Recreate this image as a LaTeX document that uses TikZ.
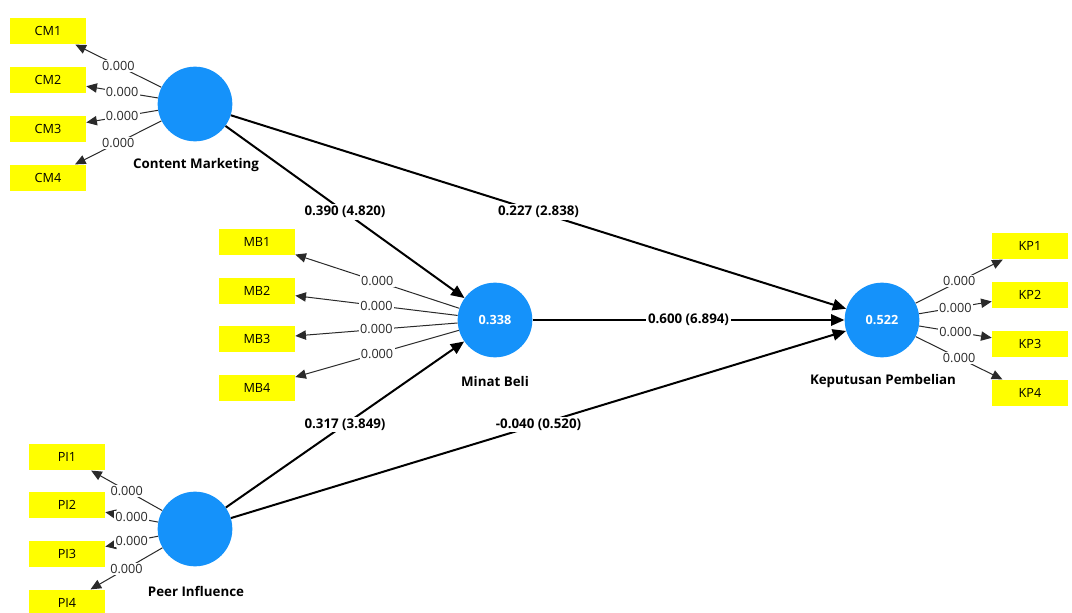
\documentclass[tikz,border=0pt]{standalone}
\usepackage{fontspec}
\setmainfont{Open Sans}
\usetikzlibrary{arrows.meta}
\definecolor{latentblue}{HTML}{1592FA}
\definecolor{indyellow}{HTML}{FFFF00}
\definecolor{loadgrey}{HTML}{2A2A2A}

\begin{document}
\begin{tikzpicture}[
  x=0.75pt,
  y=-0.75pt,
  every node/.style={font=\fontsize{9.5}{11}\selectfont},
  latent/.style={circle, fill=latentblue, minimum size=56pt, inner sep=0pt,
                 text=white, font=\fontsize{9.5}{11}\selectfont\bfseries},
  latentname/.style={font=\fontsize{10}{12}\selectfont\bfseries},
  indicator/.style={fill=indyellow, minimum width=57pt, minimum height=20pt,
                    inner sep=0pt},
  loading/.style={loadgrey, line width=0.75pt,
                  -{Triangle[length=8pt, width=7pt]}},
  loadval/.style={fill=white, inner sep=1pt, text=loadgrey},
  structural/.style={black, line width=1.5pt,
                     -{Triangle[length=10pt, width=8.5pt]}},
  pathval/.style={fill=white, inner sep=1.5pt,
                  font=\fontsize{10}{12}\selectfont\bfseries}
]
  \useasboundingbox[fill=white] (0,0) rectangle (1072,613);

  % ---- latent variables ------------------------------------------------
  \node[latent] (cm) at (195,104) {};
  \node[latent] (mb) at (495,320) {0.338};
  \node[latent] (kp) at (882,320) {0.522};
  \node[latent] (pi) at (195,529) {};

  \node[latentname] at (196,165) {Content Marketing};
  \node[latentname] at (495,381) {Minat Beli};
  \node[latentname] at (883,381) {Keputusan Pembelian};
  \node[latentname] at (196,591) {Peer Influence};

  % ---- indicators ------------------------------------------------------
  \foreach \i/\y in {1/31, 2/80, 3/129, 4/178}
    \node[indicator] (cm\i) at (48,\y) {CM\i};
  \foreach \i/\y in {1/242, 2/291, 3/339, 4/388}
    \node[indicator] (mb\i) at (257,\y) {MB\i};
  \foreach \i/\y in {1/246, 2/295, 3/344, 4/393}
    \node[indicator] (kp\i) at (1030,\y) {KP\i};
  \foreach \i/\y in {1/457, 2/505, 3/554, 4/603}
    \node[indicator] (pi\i) at (67,\y) {PI\i};

  % ---- outer loadings --------------------------------------------------
  \foreach \i in {1,...,4} {
    \draw[loading] (cm) -- (cm\i) node[loadval, midway] {0.000};
    \draw[loading] (mb) -- (mb\i) node[loadval, midway] {0.000};
    \draw[loading] (kp) -- (kp\i) node[loadval, midway] {0.000};
    \draw[loading] (pi) -- (pi\i) node[loadval, midway] {0.000};
  }

  % ---- inner model -----------------------------------------------------
  \draw[structural] (cm) -- (mb) node[pathval, midway] {0.390 (4.820)};
  \draw[structural] (cm) -- (kp) node[pathval, midway] {0.227 (2.838)};
  \draw[structural] (mb) -- (kp) node[pathval, midway] {0.600 (6.894)};
  \draw[structural] (pi) -- (mb) node[pathval, midway] {0.317 (3.849)};
  \draw[structural] (pi) -- (kp) node[pathval, midway] {-0.040 (0.520)};
\end{tikzpicture}
\end{document}
